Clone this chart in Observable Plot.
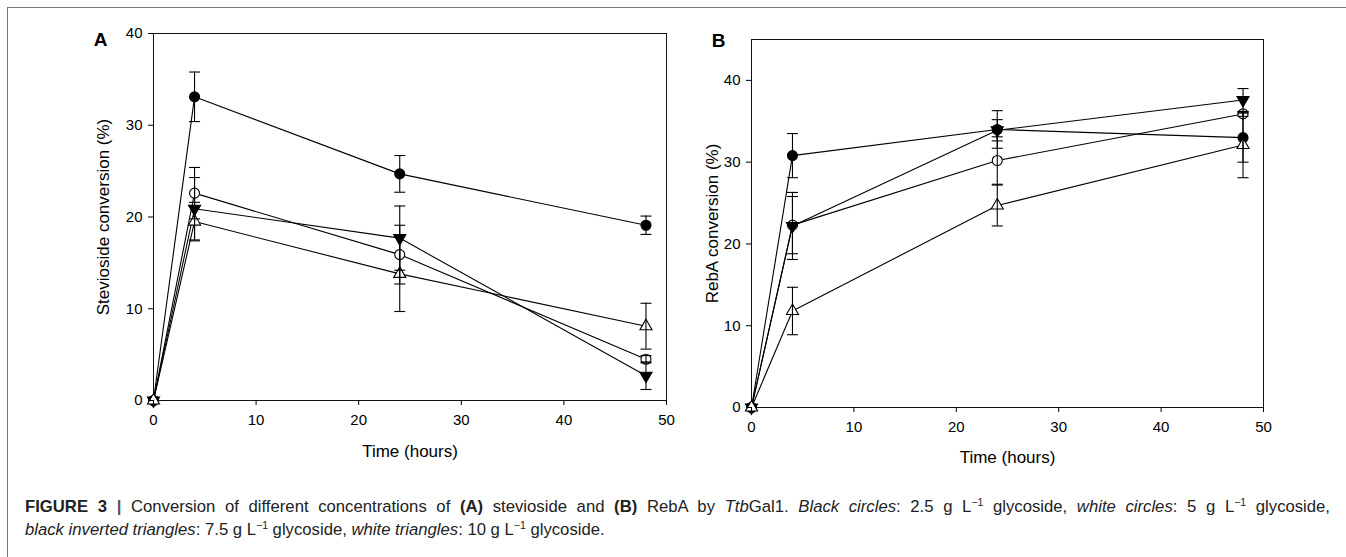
<!DOCTYPE html>
<html>
<head>
<meta charset="utf-8">
<script src="https://cdn.jsdelivr.net/npm/d3@7"></script>
<script src="https://cdn.jsdelivr.net/npm/@observablehq/plot@0.6"></script>
<style>
  html, body { margin: 0; padding: 0; background: #fff; }
  #fig { position: relative; width: 1346px; height: 557px; overflow: hidden; font-family: "Liberation Sans", Arial, sans-serif; }
  #border { position: absolute; left: 7px; top: 7px; right: -10px; bottom: -10px; border-top: 1.5px solid #777; border-left: 1.5px solid #777; }
  .panel { position: absolute; top: 0; }
  #caption { position: absolute; left: 25px; top: 495px; width: 1305px; font-size: 16.7px; line-height: 23px; color: #222; }
  #caption .l1 { white-space: nowrap; text-align: justify; text-align-last: justify; }
  #caption .l2 { white-space: nowrap; }
  #caption i { font-style: italic; }
  sup { font-size: 10.5px; line-height: 0; vertical-align: 6px; }
</style>
</head>
<body>
<div id="fig">
  <div id="border"></div>
  <div id="panelA" class="panel" style="left:60px"></div>
  <div id="panelB" class="panel" style="left:680px"></div>
  <div id="caption">
    <div class="l1"><b>FIGURE 3</b> <b style="color:#555">|</b> Conversion of different concentrations of <b>(A)</b> stevioside and <b>(B)</b> RebA by <i>Ttb</i>Gal1. <i>Black circles</i>: 2.5 g L<sup>−1</sup> glycoside, <i>white circles</i>: 5 g L<sup>−1</sup> glycoside,</div>
    <div class="l2"><i>black inverted triangles</i>: 7.5 g L<sup>−1</sup> glycoside, <i>white triangles</i>: 10 g L<sup>−1</sup> glycoside.</div>
  </div>
</div>
<script>
// ---- Data ----
const time = [0, 4, 24, 48];
const xTicks = [0, 10, 20, 30, 40, 50];
const yTicks = [0, 10, 20, 30, 40];

// Panel A: stevioside conversion (%)
const stevBlackCircle = [0, 33.1, 24.7, 19.1];
const stevBlackCircleErr = [0, 2.7, 2.0, 1.0];
const stevWhiteCircle = [0, 22.6, 15.9, 4.5];
const stevWhiteCircleErr = [0, 2.8, 3.2, 0.4];
const stevBlackInvTri = [0, 20.9, 17.7, 2.7];
const stevBlackInvTriErr = [0, 3.4, 3.5, 1.5];
const stevWhiteTri = [0, 19.5, 13.8, 8.1];
const stevWhiteTriErr = [0, 2.1, 4.1, 2.5];

// Panel B: RebA conversion (%)
const rebBlackCircle = [0, 30.8, 34.0, 33.0];
const rebBlackCircleErr = [0, 2.7, 2.3, 3.0];
const rebWhiteCircle = [0, 22.3, 30.2, 35.9];
const rebWhiteCircleErr = [0, 3.5, 2.9, 0.3];
const rebBlackInvTri = [0, 22.2, 33.9, 37.6];
const rebBlackInvTriErr = [0, 4.1, 1.3, 1.4];
const rebWhiteTri = [0, 11.8, 24.7, 32.1];
const rebWhiteTriErr = [0, 2.9, 2.5, 4.0];

// ---- Symbols ----
const invTriangle = {
  draw(ctx, size) {
    const y = Math.sqrt(size / (Math.sqrt(3) * 3));
    ctx.moveTo(0, 2 * y);
    ctx.lineTo(-Math.sqrt(3) * y, -y);
    ctx.lineTo(Math.sqrt(3) * y, -y);
    ctx.closePath();
  }
};
const capSymbol = {
  draw(ctx) { ctx.moveTo(-5.5, 0); ctx.lineTo(5.5, 0); }
};

function rows(vals, errs) {
  return time.map((t, i) => ({t, v: vals[i], lo: vals[i] - errs[i], hi: vals[i] + errs[i], e: errs[i]}));
}

function panel(series, opts) {
  const marks = [Plot.frame({stroke: "#111", strokeWidth: 1})];
  for (const s of series) marks.push(Plot.line(s.data, {x: "t", y: "v", stroke: "#000", strokeWidth: 1.1}));
  for (const s of series) marks.push(Plot.dot(s.data, {x: "t", y: "v", symbol: s.symbol, r: s.r, fill: s.fill, stroke: "#000", strokeWidth: 1.1}));
  for (const s of series) {
    const d = s.data.filter(r => r.e > 0);
    marks.push(Plot.ruleX(d, {x: "t", y1: "lo", y2: "hi", stroke: "#000", strokeWidth: 1.1}));
    marks.push(Plot.dot(d, {x: "t", y: "lo", symbol: capSymbol, fill: "none", stroke: "#000", strokeWidth: 1.1}));
    marks.push(Plot.dot(d, {x: "t", y: "hi", symbol: capSymbol, fill: "none", stroke: "#000", strokeWidth: 1.1}));
  }
  marks.push(Plot.axisX({ticks: xTicks, tickSize: 5, tickPadding: 9, label: null, fontSize: 15}));
  marks.push(Plot.axisY({ticks: yTicks, tickSize: 5, tickPadding: 6, label: null, fontSize: 15}));
  marks.push(Plot.text([opts.xlabel], {frameAnchor: "bottom", textAnchor: "middle", dy: opts.xlabelDy, fontSize: 17}));
  marks.push(Plot.text([opts.ylabel], {frameAnchor: "left", textAnchor: "middle", lineAnchor: "middle", rotate: -90, dx: opts.ylabelDx, fontSize: 17}));
  marks.push(Plot.text([opts.letter], {frameAnchor: "top-left", textAnchor: "middle", lineAnchor: "middle", dx: opts.letterDx, dy: opts.letterDy, fontSize: 19, fontWeight: "bold"}));
  return Plot.plot({
    width: opts.width, height: 480,
    marginLeft: opts.ml, marginRight: opts.mr, marginTop: opts.mt, marginBottom: opts.mb,
    x: {domain: [0, 50]},
    y: {domain: opts.ydomain},
    style: {background: "transparent", fontFamily: "Liberation Sans, Arial, sans-serif", color: "#000", overflow: "visible"},
    marks
  });
}

const seriesA = [
  {data: rows(stevBlackCircle, stevBlackCircleErr), symbol: "circle", r: 5, fill: "#000"},
  {data: rows(stevWhiteCircle, stevWhiteCircleErr), symbol: "circle", r: 5, fill: "#fff"},
  {data: rows(stevBlackInvTri, stevBlackInvTriErr), symbol: invTriangle, r: 4.5, fill: "#000"},
  {data: rows(stevWhiteTri, stevWhiteTriErr), symbol: "triangle", r: 4.5, fill: "#fff"}
];
const seriesB = [
  {data: rows(rebBlackCircle, rebBlackCircleErr), symbol: "circle", r: 5, fill: "#000"},
  {data: rows(rebWhiteCircle, rebWhiteCircleErr), symbol: "circle", r: 5, fill: "#fff"},
  {data: rows(rebBlackInvTri, rebBlackInvTriErr), symbol: invTriangle, r: 4.5, fill: "#000"},
  {data: rows(rebWhiteTri, rebWhiteTriErr), symbol: "triangle", r: 4.5, fill: "#fff"}
];

document.getElementById("panelA").append(panel(seriesA, {
  width: 620, ml: 93, mr: 14, mt: 33, mb: 80, ydomain: [0, 40],
  xlabel: "Time (hours)", ylabel: "Stevioside conversion (%)", letter: "A",
  xlabelDy: 56, ylabelDx: -50, letterDx: -53, letterDy: 6
}));
document.getElementById("panelB").append(panel(seriesB, {
  width: 640, ml: 71, mr: 57, mt: 39, mb: 73, ydomain: [0, 45],
  xlabel: "Time (hours)", ylabel: "RebA conversion (%)", letter: "B",
  xlabelDy: 55, ylabelDx: -39, letterDx: -33, letterDy: 1
}));
</script>
</body>
</html>
